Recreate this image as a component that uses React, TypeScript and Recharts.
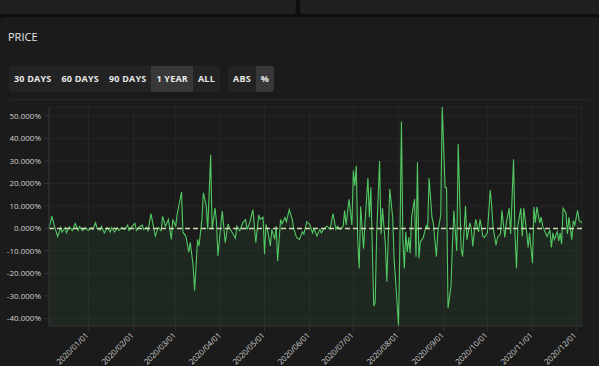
import { ComposedChart, Area, XAxis, YAxis, CartesianGrid, ReferenceLine } from "recharts";

// month tick labels on the time axis
const tickLabels = [
  "2020/01/01", "2020/02/01", "2020/03/01", "2020/04/01", "2020/05/01", "2020/06/01",
  "2020/07/01", "2020/08/01", "2020/09/01", "2020/10/01", "2020/11/01", "2020/12/01",
];

// days since 2020-01-01
const days = [
  -27, -25, -23, -21, -19, -18, -16, -15, -13, -11, -9, -7, -6, -4, -2, 0, 2, 3, 5, 6,
  8, 9, 11, 13, 15, 16, 18, 20, 21, 23, 25, 27, 28, 30, 32, 33, 35, 37, 38, 40,
  41, 43, 46, 48, 50, 51, 53, 55, 57, 58, 60, 61, 64, 65, 67, 69, 70, 72, 73, 75,
  76, 78, 79, 81, 82, 84, 85, 87, 88, 89, 91, 92, 94, 96, 97, 99, 101, 102, 104, 106,
  108, 109, 111, 113, 115, 117, 118, 120, 121, 122, 123, 125, 126, 128, 129, 130, 132, 133, 135, 136,
  138, 140, 141, 143, 145, 147, 148, 150, 152, 154, 155, 157, 159, 160, 162, 164, 166, 168, 170, 171,
  173, 175, 176, 177, 179, 181, 182, 183, 184, 185, 186, 187, 189, 190, 192, 193, 194, 196, 197, 198,
  200, 201, 202, 204, 205, 207, 209, 210, 211, 213, 214, 215, 216, 217, 218, 219, 220, 221, 222, 224,
  225, 226, 227, 228, 230, 232, 233, 234, 236, 237, 239, 240, 242, 243, 245, 246, 247, 249, 250, 251,
  253, 254, 256, 257, 259, 260, 262, 263, 264, 266, 268, 269, 271, 272, 274, 276, 277, 278, 280, 281,
  283, 284, 286, 287, 289, 290, 292, 293, 294, 295, 297, 298, 299, 301, 302, 303, 305, 306, 307, 308,
  310, 311, 312, 314, 315, 317, 318, 319, 320, 322, 323, 324, 325, 326, 328, 329, 330, 332, 333, 334,
  336, 337, 339,
];

// daily price change, %
const pct = [
  0, 5.5, 0.4, -3.6, 0.4, -1.6, 0.4, -2, 0.7, -1, 2.2, -0.9, 0.9, -1, 0.4, -0.9, 0.4, -0.5, 2.5, 0,
  -0.9, 0.9, -2, 0.4, -1.6, 0.4, -1.6, 0.4, -0.9, 0.4, -0.5, 1.5, -0.9, 0.9, 2.2, -0.9, 0.7, 1.5, -0.5, 0.5,
  -1, 6.6, -3.4, 0.5, -1, 5.3, 1, 4, -4.9, 4, 1, 6.2, 16.2, -1.8, -3.4, -10.6, -6.2, -16.7, -27.7, -4.9,
  -7.8, 4, 15.8, 9.9, -0.5, 32.7, -0.4, 9.1, 3, -12.2, 1.8, 7.7, -6.3, 2, 0, -2, -4.4, 1, -1, 2.5,
  4, -0.5, 3, 8.4, -6.3, 6, 4, 5, -11.5, 1.8, -0.4, -7.8, -0.4, -4.9, 1, -14.5, 4, 2, 4.9, 3,
  8.4, 4, 0, -4, -4.9, -1.5, -2.5, 3, 1.8, -2, 0, -3.4, -0.4, -2, 0, 1, -0.4, 6.6, -0.4, 1,
  -0.4, 1, 8, 1.5, 13, 1.5, 25.7, 19, 27.9, -5.3, -17.8, 9.7, -9, 2.5, 22.4, 5, 18.3, -34.5, -33, -2.5,
  30, -2.5, 9, -7.4, -23.7, 17.6, 5, -14, -22.9, -43.4, -5.3, 47.5, -5, -17.8, -1.5, -10.5, -4, -11, 5, 13,
  -12.6, 29.4, -13.4, -6, -4, 1.3, 0, 22.4, 5, 2, -12.6, -1.6, 6, 54, 18.3, 18, -35.5, -26, -8, 8,
  -10, 37.5, -9, -12.6, 10, -5, 2.5, 0, -8, 4, -1.5, 4, -3.6, -4, -2, 17.1, 10, 0, -7.4, -4,
  -2.5, 8, -4, 2.5, 9, -2.5, 30.8, -2.5, -17.8, 1.5, 9, -3.6, 9, -1.5, -8.5, -2, -15.5, 9.5, 2.5, 9.5,
  2.5, 5, 1, -2, -3.6, -0.7, -8.5, -2, -5, -1.5, -5.6, -2, -7, 9, 7, -2.5, 5, -5, 3.5, 1.5,
  8, 3.5, 2.5,
];

const yTicks = [50, 40, 30, 20, 10, 0, -10, -20, -30, -40];
const rangeButtons = ["30 DAYS", "60 DAYS", "90 DAYS", "1 YEAR", "ALL"];
const modeButtons = ["ABS", "%"];

const DAY0 = Date.UTC(2020, 0, 1);
const toDay = (s: string) => {
  const [y, m, d] = s.split("/").map(Number);
  return Math.round((Date.UTC(y, m - 1, d) - DAY0) / 86400000);
};
const tickDays = tickLabels.map(toDay);
const data = days.map((d, i) => ({ day: d, v: pct[i] }));

const FONT = '"Open Sans", sans-serif';

const DateTick = ({ x, y, payload }: any) => {
  const label = tickLabels[tickDays.indexOf(payload.value)];
  return (
    <g transform={`translate(${x},${y})`}>
      <text x={0} y={0} dx={-1.5} dy={2.5} textAnchor="end" fill="#cfcfcf" fontSize={7.8} fontFamily={FONT} transform="rotate(-45)">
        {label}
      </text>
    </g>
  );
};

const ButtonGroup = ({ items, active, left }: any) => (
  <div
    style={{
      position: "absolute", left, top: 66, height: 26, background: "#232323",
      borderRadius: 3, display: "flex", overflow: "hidden", whiteSpace: "nowrap",
    }}
  >
    {items.map((b: string) => (
      <div
        key={b}
        style={{
          padding: "0 5px", lineHeight: "26px", fontSize: 9, fontWeight: 700, letterSpacing: 0.2,
          color: "#e8e8e8", background: b === active ? "#383838" : "transparent", whiteSpace: "nowrap",
        }}
      >
        {b}
      </div>
    ))}
  </div>
);

export default function App() {
  return (
    <div style={{ position: "absolute", left: 0, top: 0, width: 599, height: 366, background: "#0e0e0e", overflow: "hidden", fontFamily: FONT }}>
      <div style={{ position: "absolute", left: 0, top: 0, width: 296, height: 14, background: "#1f1f1f", borderBottomRightRadius: 4 }} />
      <div style={{ position: "absolute", left: 300, top: 0, width: 299, height: 14, background: "#1f1f1f", borderBottomLeftRadius: 4 }} />
      <div style={{ position: "absolute", left: 0, top: 17, width: 599, height: 349, background: "#1b1b1b", borderTopLeftRadius: 4, borderTopRightRadius: 4 }} />

      <div style={{ position: "absolute", left: 8, top: 29, fontSize: 11, color: "#e6e6e6" }}>PRICE</div>

      <ButtonGroup items={rangeButtons} active="1 YEAR" left={9} />
      <ButtonGroup items={modeButtons} active="%" left={228} />

      <div style={{ position: "absolute", left: 9, top: 99, width: 582, height: 1, background: "#262626" }} />

      <div style={{ position: "absolute", left: 0, top: 100 }}>
        <ComposedChart width={599} height={266} data={data} margin={{ top: 7, right: 17, left: 0, bottom: 0 }}>
          <CartesianGrid stroke="#262626" />
          <XAxis
            type="number"
            dataKey="day"
            domain={[-27, 339]}
            ticks={tickDays}
            interval={0}
            height={40}
            stroke="#333333"
            tickSize={5}
            tick={<DateTick />}
          />
          <YAxis
            type="number"
            domain={["dataMin", "dataMax"]}
            ticks={yTicks}
            interval={0}
            width={49}
            stroke="#333333"
            tickSize={5}
            tickMargin={3}
            tick={{ fill: "#cfcfcf", fontSize: 8, fontFamily: FONT }}
            tickFormatter={(v: number) => v.toFixed(3) + "%"}
          />
          <Area
            type="linear"
            dataKey="v"
            baseValue="dataMin"
            stroke="#52c862"
            strokeWidth={1.1}
            fill="rgba(76, 200, 100, 0.07)"
            fillOpacity={1}
            dot={false}
            activeDot={false}
            isAnimationActive={false}
          />
          <ReferenceLine y={0} stroke="#d2dab4" strokeWidth={1.5} strokeDasharray="5 3" />
        </ComposedChart>
      </div>
    </div>
  );
}
